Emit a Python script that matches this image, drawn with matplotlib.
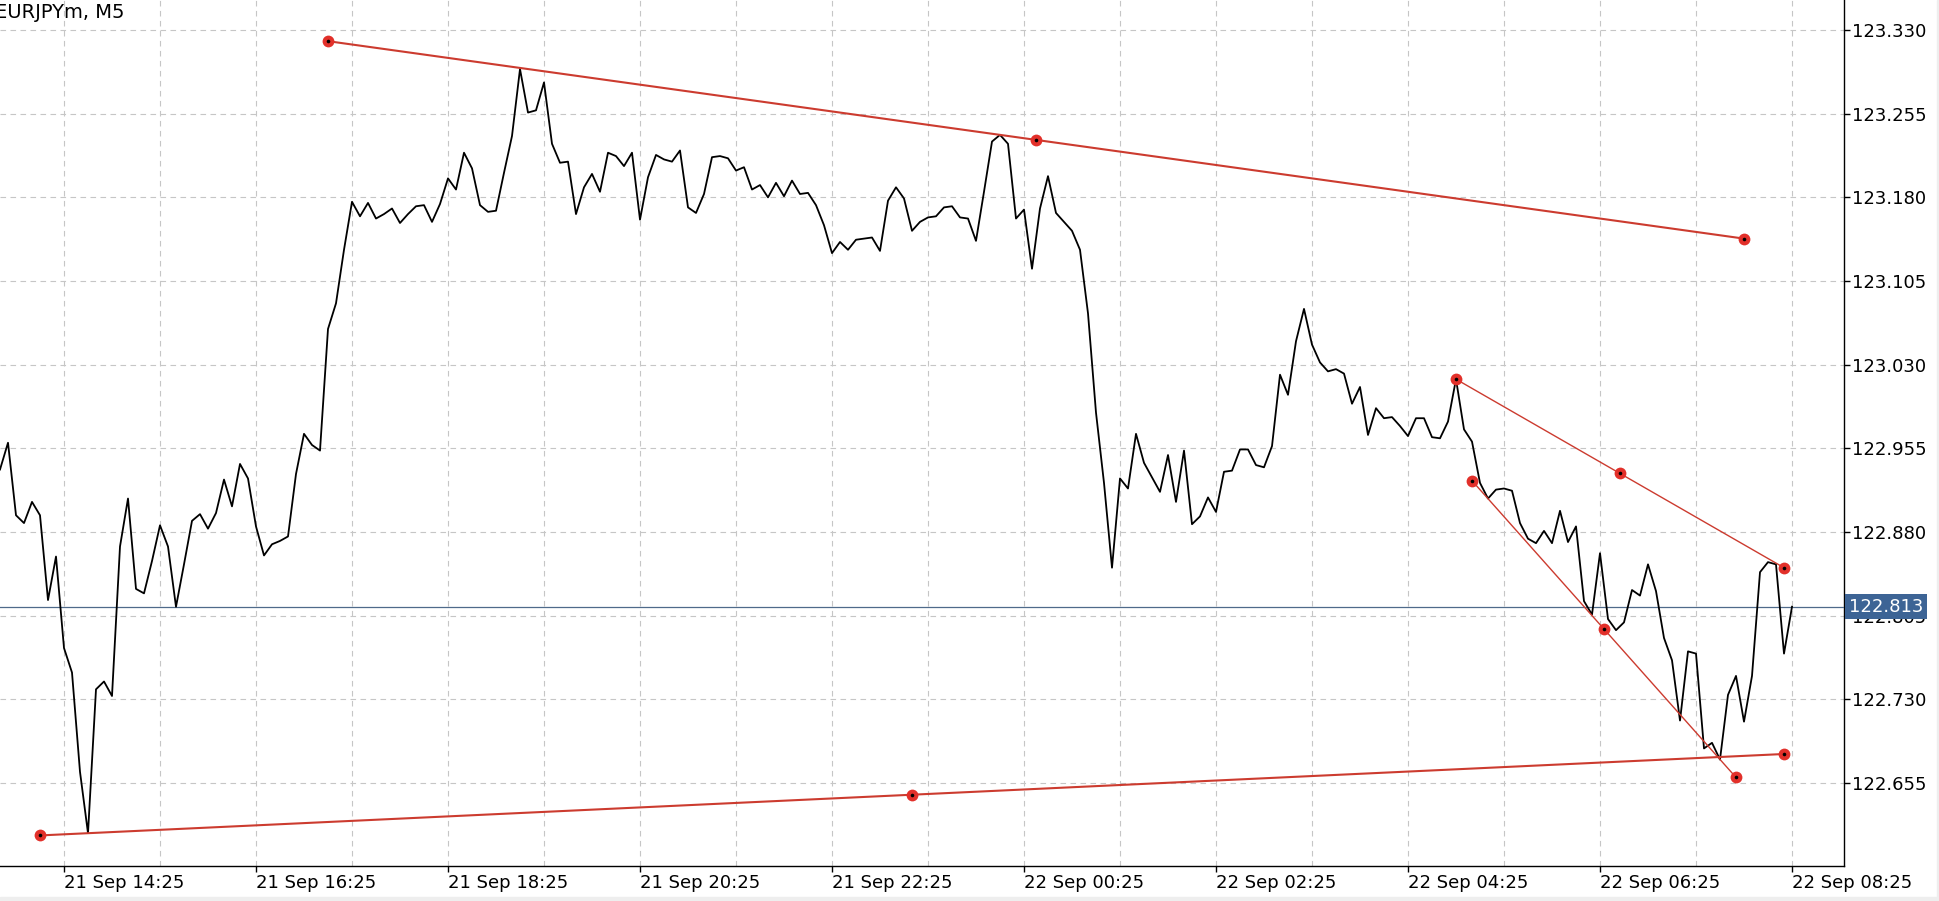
import matplotlib
matplotlib.use("Agg")
from matplotlib import pyplot as plt
from matplotlib.patches import Rectangle
import matplotlib.dates as mdates
import numpy as np
import pandas as pd

plt.rcParams["font.family"] = ["DejaVu Sans"]
plt.rcParams["font.size"] = 13

# EURJPYm M5 closes, one per 5-minute bar starting 21 Sep 13:45
closes = [
    122.936, 122.960, 122.895, 122.888, 122.907, 122.895, 122.819, 122.858, 122.776, 122.754,
    122.665, 122.610, 122.739, 122.746, 122.733, 122.867, 122.910, 122.829, 122.825, 122.854,
    122.886, 122.867, 122.813, 122.851, 122.890, 122.896, 122.883, 122.897, 122.927, 122.903,
    122.941, 122.928, 122.885, 122.859, 122.869, 122.872, 122.876, 122.932, 122.968, 122.958,
    122.953, 123.062, 123.085, 123.133, 123.176, 123.163, 123.175, 123.161, 123.165, 123.170,
    123.157, 123.165, 123.172, 123.173, 123.158, 123.174, 123.197, 123.187, 123.220, 123.206,
    123.173, 123.167, 123.168, 123.202, 123.235, 123.295, 123.256, 123.258, 123.283, 123.228,
    123.211, 123.212, 123.165, 123.189, 123.201, 123.185, 123.220, 123.217, 123.208, 123.220,
    123.160, 123.198, 123.218, 123.214, 123.212, 123.222, 123.171, 123.166, 123.183, 123.216,
    123.217, 123.215, 123.204, 123.207, 123.187, 123.191, 123.180, 123.193, 123.181, 123.195,
    123.183, 123.184, 123.173, 123.155, 123.130, 123.140, 123.133, 123.142, 123.143, 123.144,
    123.132, 123.177, 123.189, 123.179, 123.150, 123.158, 123.162, 123.163, 123.171, 123.172,
    123.162, 123.161, 123.141, 123.185, 123.230, 123.236, 123.228, 123.161, 123.169, 123.116,
    123.170, 123.199, 123.166, 123.158, 123.150, 123.133, 123.076, 122.987, 122.924, 122.848,
    122.928, 122.919, 122.968, 122.942, 122.929, 122.916, 122.949, 122.907, 122.953, 122.887,
    122.894, 122.911, 122.898, 122.934, 122.935, 122.954, 122.954, 122.940, 122.938, 122.957,
    123.021, 123.003, 123.051, 123.080, 123.048, 123.032, 123.024, 123.026, 123.022, 122.995,
    123.010, 122.967, 122.991, 122.982, 122.983, 122.975, 122.966, 122.982, 122.982, 122.965,
    122.964, 122.979, 123.017, 122.972, 122.961, 122.924, 122.910, 122.918, 122.919, 122.917,
    122.888, 122.874, 122.870, 122.881, 122.870, 122.899, 122.871, 122.885, 122.818, 122.806,
    122.861, 122.802, 122.792, 122.799, 122.828, 122.823, 122.851, 122.827, 122.785, 122.765,
    122.711, 122.773, 122.771, 122.686, 122.691, 122.676, 122.734, 122.751, 122.710, 122.751,
    122.844, 122.853, 122.851, 122.771, 122.813,
]
times = pd.date_range("2023-09-21 13:45", periods=len(closes), freq="5min")

# trend lines: (start time, start price, end time, end price)
upper_line = ("2023-09-21 17:10", 123.320, "2023-09-22 07:55", 123.143)
lower_line = ("2023-09-21 14:10", 122.608, "2023-09-22 08:20", 122.681)
wedge_top = ("2023-09-22 04:55", 123.017, "2023-09-22 08:20", 122.848)
wedge_bottom = ("2023-09-22 05:05", 122.926, "2023-09-22 07:50", 122.660)

price_ticks = [122.655, 122.730, 122.805, 122.880, 122.955, 123.030, 123.105, 123.180, 123.255, 123.330]
last_price = closes[-1]

W, H = 1940, 901
fig = plt.figure(figsize=(W / 100, H / 100), dpi=100)
ax = fig.add_axes([0, 35 / H, 1844 / W, 866 / H])

ax.plot(times, closes, color="black", lw=1.3, zorder=4)


def trend(line, lw):
    t0, p0, t1, p1 = line
    t0, t1 = pd.Timestamp(t0), pd.Timestamp(t1)
    tm = t0 + (t1 - t0) / 2
    xs = [t0, tm, t1]
    ys = [p0, (p0 + p1) / 2, p1]
    ax.plot([t0, t1], [p0, p1], color="#cc3b2f", lw=lw, zorder=5, solid_capstyle="butt")
    ax.plot(xs, ys, "o", color="#e2302a", ms=8.5, mec="none", zorder=6)
    ax.plot(xs, ys, "o", color="black", ms=2.6, mec="none", zorder=7)


trend(upper_line, 1.5)
trend(lower_line, 1.5)
trend(wedge_top, 1.0)
trend(wedge_bottom, 1.0)

# current price line
ax.axhline(last_price, color="#4f6a8a", lw=0.9, zorder=3)

ax.set_xlim(times[0], times[0] + pd.Timedelta(minutes=5 * 230.5))
ax.set_ylim(122.5806, 123.3569)

major = pd.date_range("2023-09-21 14:25", "2023-09-22 08:25", freq="2h")
minor = pd.date_range("2023-09-21 15:25", "2023-09-22 07:25", freq="2h")
ax.set_xticks(major)
ax.set_xticks(minor, minor=True)
ax.xaxis.set_major_formatter(mdates.DateFormatter("%d %b %H:%M"))
for lab in ax.get_xticklabels():
    lab.set_ha("left")

ax.yaxis.tick_right()
ax.set_yticks(price_ticks)
ax.set_yticklabels(["%.3f" % p for p in price_ticks])

ax.tick_params(axis="x", which="major", length=4, width=1, direction="out", pad=2, labelsize=13)
ax.tick_params(axis="x", which="minor", length=0)
ax.tick_params(axis="y", length=4, width=1, direction="out", pad=2, labelsize=13)

ax.grid(True, which="both", axis="x", color="#c6c6c6", lw=0.8, dashes=(5, 4))
ax.grid(True, which="major", axis="y", color="#c6c6c6", lw=0.8, dashes=(5, 4))
ax.set_axisbelow(True)

for s in ["left", "top"]:
    ax.spines[s].set_visible(False)
for s in ["right", "bottom"]:
    ax.spines[s].set_color("black")
    ax.spines[s].set_linewidth(1)

ax.text(-0.0025, 0.997, "EURJPYm, M5", transform=ax.transAxes, ha="left", va="top",
        fontsize=14, color="black")

ax.annotate("%.3f" % last_price, xy=(1, last_price), xycoords=("axes fraction", "data"),
            xytext=(5, 0), textcoords="offset pixels", ha="left", va="center",
            color="white", fontsize=13, annotation_clip=False, zorder=10,
            bbox=dict(boxstyle="square,pad=0.2", fc="#3d6495", ec="none"))

# light frame strips of the terminal window
fig.patches.append(Rectangle((0, 0), 1, 4 / H, transform=fig.transFigure, color="#eeeeee", zorder=0))
fig.patches.append(Rectangle((1 - 3 / W, 0), 3 / W, 1, transform=fig.transFigure, color="#eeeeee", zorder=0))

fig.savefig("out.png", dpi=100)
